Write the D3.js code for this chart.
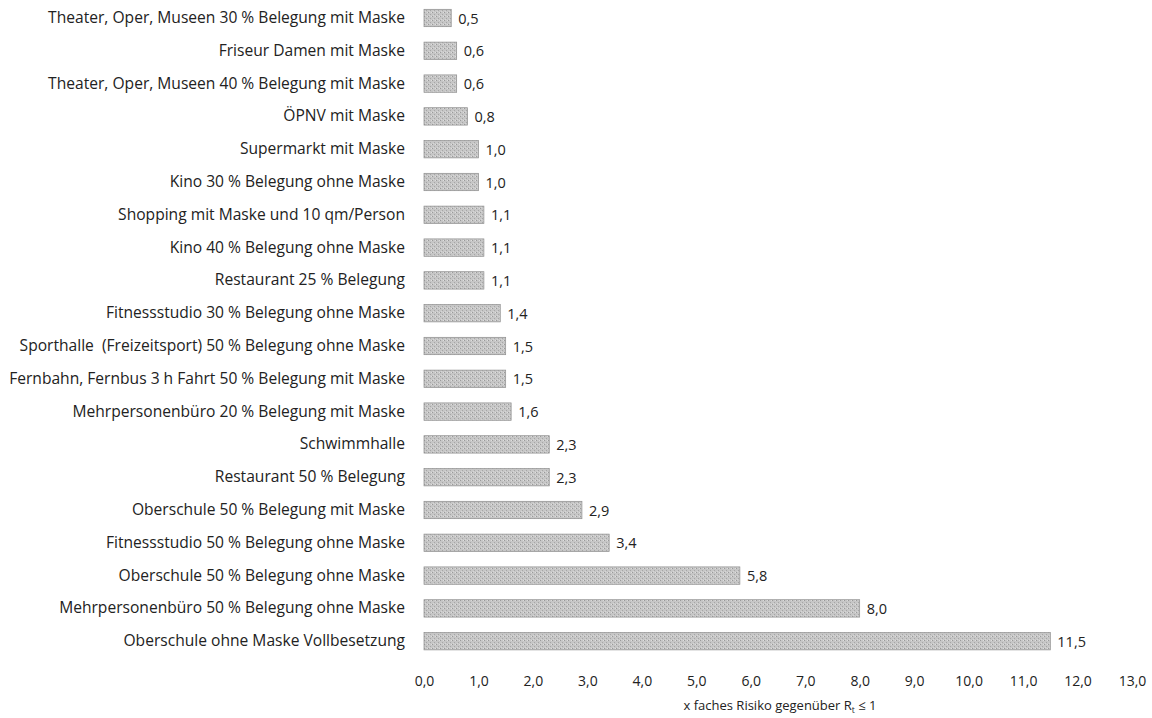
<!DOCTYPE html>
<html><head><meta charset="utf-8">
<script src="https://cdn.jsdelivr.net/npm/d3@7"></script>
<style>body{margin:0;background:#fff}svg{display:block}</style>
</head><body><svg id="c" width="1152" height="718"></svg>
<script>
const categories = [
 "Theater, Oper, Museen 30 % Belegung mit Maske",
 "Friseur Damen mit Maske",
 "Theater, Oper, Museen 40 % Belegung mit Maske",
 "ÖPNV mit Maske",
 "Supermarkt mit Maske",
 "Kino 30 % Belegung ohne Maske",
 "Shopping mit Maske und 10 qm/Person",
 "Kino 40 % Belegung ohne Maske",
 "Restaurant 25 % Belegung",
 "Fitnessstudio 30 % Belegung ohne Maske",
 "Sporthalle  (Freizeitsport) 50 % Belegung ohne Maske",
 "Fernbahn, Fernbus 3 h Fahrt 50 % Belegung mit Maske",
 "Mehrpersonenbüro 20 % Belegung mit Maske",
 "Schwimmhalle",
 "Restaurant 50 % Belegung",
 "Oberschule 50 % Belegung mit Maske",
 "Fitnessstudio 50 % Belegung ohne Maske",
 "Oberschule 50 % Belegung ohne Maske",
 "Mehrpersonenbüro 50 % Belegung ohne Maske",
 "Oberschule ohne Maske Vollbesetzung"
];
const values = [0.5,0.6,0.6,0.8,1.0,1.0,1.1,1.1,1.1,1.4,1.5,1.5,1.6,2.3,2.3,2.9,3.4,5.8,8.0,11.5];
const xTicks = [0,1,2,3,4,5,6,7,8,9,10,11,12,13];
const xTitle = "x faches Risiko gegenüber R";
const xTitleSub = "t";
const xTitleEnd = " ≤ 1";

const svg = d3.select("#c");
const font = "'Open Sans', sans-serif";
const fmt = v => d3.format(".1f")(v).replace(".", ",");

const x = d3.scaleLinear().domain([0,13]).range([424,1132]);
const y = d3.scaleBand().domain(categories).range([1.6,657.6]).paddingInner(0.47).paddingOuter(0.235);

const defs = svg.append("defs");
const pat = defs.append("pattern").attr("id","stip").attr("width",4).attr("height",4).attr("patternUnits","userSpaceOnUse");
pat.append("rect").attr("width",4).attr("height",4).attr("fill","#c6c6c6");
pat.append("rect").attr("x",0).attr("y",0).attr("width",1).attr("height",1).attr("fill","#9a9a9a");
pat.append("rect").attr("x",2).attr("y",2).attr("width",1).attr("height",1).attr("fill","#a6a6a6");
pat.append("rect").attr("x",3).attr("y",0).attr("width",1).attr("height",1).attr("fill","#dedede");
pat.append("rect").attr("x",1).attr("y",3).attr("width",1).attr("height",1).attr("fill","#d6d6d6");

svg.append("g").selectAll("rect").data(values).join("rect")
  .attr("x", x(0))
  .attr("y", (d,i) => y(categories[i]))
  .attr("width", d => x(d) - x(0))
  .attr("height", y.bandwidth())
  .attr("fill", "url(#stip)")
  .attr("stroke", "#8e8e8e").attr("stroke-width", 0.7);

svg.append("g").selectAll("text").data(values).join("text")
  .attr("x", d => x(d) + 7)
  .attr("y", (d,i) => y(categories[i]) + y.bandwidth()/2)
  .attr("dy", "0.38em")
  .attr("font-family", font).attr("font-size", 14.5).attr("fill", "#222")
  .text(d => fmt(d));

const yAxis = d3.axisLeft(y).tickSize(0).tickPadding(0);
const gy = svg.append("g").attr("transform", "translate(405,0)").call(yAxis);
gy.select(".domain").remove();
gy.selectAll("text").attr("font-family", font).attr("font-size", 15.6).attr("fill", "#222")
  .style("white-space", "pre");

const xAxis = d3.axisBottom(x).tickValues(xTicks).tickSize(0).tickPadding(0).tickFormat(fmt);
const gx = svg.append("g").attr("transform", "translate(0,676)").call(xAxis);
gx.select(".domain").remove();
gx.selectAll("text").attr("font-family", font).attr("font-size", 14).attr("fill", "#222");

const t = svg.append("text").attr("x", (x(0)+x(13))/2 + 2).attr("y", 710).attr("text-anchor","middle")
  .attr("font-family", font).attr("font-size", 13).attr("fill", "#222");
t.append("tspan").text(xTitle);
t.append("tspan").attr("font-size", 8.5).attr("dy", 3).text(xTitleSub);
t.append("tspan").attr("dy", -3).text(xTitleEnd);
</script></body></html>
